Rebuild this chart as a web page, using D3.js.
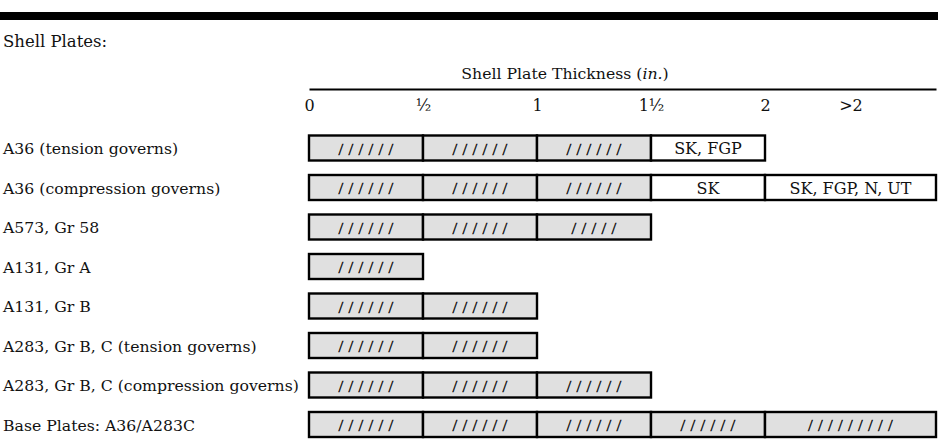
<!DOCTYPE html>
<html>
<head>
<meta charset="utf-8">
<script src="https://cdn.jsdelivr.net/npm/d3@7"></script>
<style>
  body { margin: 0; background: #fff; }
  svg { display: block; }
  text { font-family: "DejaVu Serif", serif; fill: #111; }
</style>
</head>
<body>
<svg id="chart"></svg>
<script>
// rows of the table, top to bottom
var materials = [
  "A36 (tension governs)",
  "A36 (compression governs)",
  "A573, Gr 58",
  "A131, Gr A",
  "A131, Gr B",
  "A283, Gr B, C (tension governs)",
  "A283, Gr B, C (compression governs)",
  "Base Plates: A36/A283C"
];

// thickness bands (in.), last one is the open ">2" band
var bandEdges = [0, 0.5, 1, 1.5, 2, 2.75];

// what is written in each band for each row
var cellTexts = [
  ["//////", "//////", "//////", "SK, FGP"],
  ["//////", "//////", "//////", "SK", "SK, FGP, N, UT"],
  ["//////", "//////", "/////"],
  ["//////"],
  ["//////", "//////"],
  ["//////", "//////"],
  ["//////", "//////", "//////"],
  ["//////", "//////", "//////", "//////", "/////////"]
];

var tickValues = [0, 0.5, 1, 1.5, 2, 2.375];
var tickLabels = ["0", "\u00bd", "1", "1\u00bd", "2", ">2"];

var sectionTitle = "Shell Plates:";
var axisTitle = "Shell Plate Thickness (";

var width = 938,
  height = 448,
  fontSize = 15.7,
  svg = d3.select("#chart")
    .attr("width", width)
    .attr("height", height),
  x = d3.scaleLinear()
    .domain([0, 2.75])
    .range([309, 936]),
  y = d3.scalePoint()
    .domain(materials)
    .range([148, 424.5]),
  barHeight = 25,
  isHatch = function(t) { return /^\/+$/.test(t); },
  cells = [];

// heavy rule at the top
svg.append("rect")
  .attr("x", 0)
  .attr("y", 12)
  .attr("width", width)
  .attr("height", 8)
  .attr("fill", "#000");

svg.append("text")
  .attr("x", 3)
  .attr("y", 47)
  .attr("font-size", 16.5)
  .text(sectionTitle);

var title = svg.append("text")
  .attr("x", 565)
  .attr("y", 79)
  .attr("text-anchor", "middle")
  .attr("font-size", fontSize);
title.append("tspan").text(axisTitle);
title.append("tspan").attr("font-style", "italic").text("in.");
title.append("tspan").text(")");

// axis: line with labels below
var axis = d3.axisBottom(x)
  .tickValues(tickValues)
  .tickFormat(function(d, i) { return tickLabels[i]; })
  .tickSize(0)
  .tickSizeOuter(0);

var axisG = svg.append("g")
  .attr("transform", "translate(0,89)")
  .call(axis);
axisG.select(".domain")
  .attr("stroke", "#000")
  .attr("stroke-width", 2);
axisG.selectAll(".tick text")
  .attr("y", 22)
  .attr("dy", null)
  .attr("font-size", 16)
  .attr("font-family", "DejaVu Serif, serif")
  .attr("fill", "#111");

// row labels
svg.append("g")
  .selectAll("text")
  .data(materials)
  .enter()
  .append("text")
    .attr("x", 3)
    .attr("y", function(d) { return y(d) + 6; })
    .attr("font-size", fontSize)
    .text(function(d) { return d; });

materials.forEach(function(m, r) {
  cellTexts[r].forEach(function(t, c) {
    cells.push({row: m, x0: bandEdges[c], x1: bandEdges[c + 1], text: t});
  });
});

var cellG = svg.append("g")
  .selectAll("g")
  .data(cells)
  .enter()
  .append("g");

cellG.append("rect")
  .attr("x", function(d) { return x(d.x0); })
  .attr("y", function(d) { return y(d.row) - barHeight / 2; })
  .attr("width", function(d) { return x(d.x1) - x(d.x0); })
  .attr("height", barHeight)
  .attr("fill", function(d) { return isHatch(d.text) ? "#e0e0e0" : "#fff"; })
  .attr("stroke", "#000")
  .attr("stroke-width", 2.4);

cellG.append("text")
  .attr("x", function(d) { return (x(d.x0) + x(d.x1)) / 2 + (isHatch(d.text) ? 2.5 : 0); })
  .attr("y", function(d) { return y(d.row) + (isHatch(d.text) ? 6.5 : 6); })
  .attr("text-anchor", "middle")
  .attr("font-size", function(d) { return isHatch(d.text) ? 17 : 16; })
  .style("font-family", function(d) { return isHatch(d.text) ? "Liberation Serif, serif" : null; })
  .style("letter-spacing", function(d) { return isHatch(d.text) ? "5.3px" : null; })
  .style("fill", function(d) { return isHatch(d.text) ? "#000" : null; })
  .style("stroke", function(d) { return isHatch(d.text) ? "#000" : null; })
  .style("stroke-width", function(d) { return isHatch(d.text) ? 0.35 : null; })
  .text(function(d) { return d.text; });
</script>
</body>
</html>
